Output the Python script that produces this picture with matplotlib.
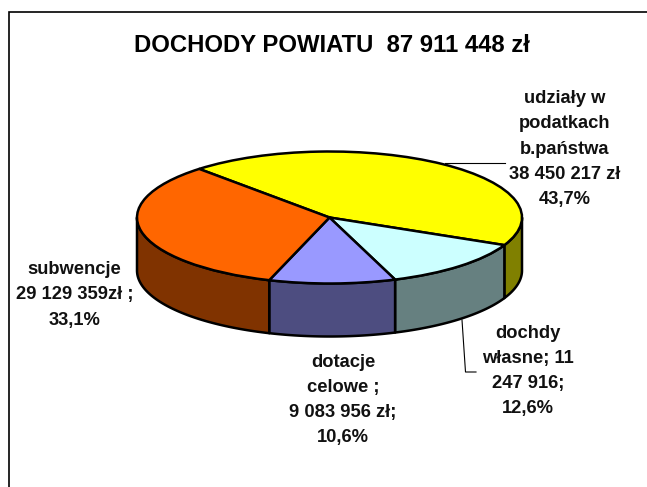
import matplotlib
matplotlib.use("Agg")
import matplotlib.pyplot as plt
import numpy as np

plt.rcParams["font.family"] = ["Liberation Sans", "DejaVu Sans"]

W, H = 647, 487

# dane z wykresu
title = "DOCHODY POWIATU  87 911 448 zł"
percents = [43.7, 12.6, 10.6, 33.1]
top_colors = ["#FFFF00", "#CCFFFF", "#9999FF", "#FF6600"]
side_colors = ["#808000", "#668080", "#4D4D80", "#803300"]
labels = [
    "udziały w\npodatkach\nb.państwa\n38 450 217 zł\n43,7%",
    "dochdy\nwłasne; 11\n247 916;\n12,6%",
    "dotacje\ncelowe ;\n9 083 956 zł;\n10,6%",
    "subwencje\n29 129 359zł ;\n33,1%",
]
label_pos = [(565, 149), (528, 371), (343, 400), (74.5, 295)]
start_angle = 132.6

# geometria kola
cx, cy = 329.5, 217.5
a, b = 192.5, 66
depth = 53

fig = plt.figure(figsize=(W / 100, H / 100), dpi=100)

bg = fig.add_axes([0, 0, 1, 1])
bg.set_xlim(0, W)
bg.set_ylim(H, 0)
bg.axis("off")
bg.plot([8.5, 8.5, W], [H, 12, 12], color="black", lw=1.2, solid_joinstyle="miter")
bg.plot([445, 505], [163, 163], color="black", lw=0.8)
bg.plot([462, 465.5, 476], [320, 372, 372], color="black", lw=0.8)

bg.text(331.5, 45, title, ha="center", va="center", fontsize=17.2, fontweight="bold")
for txt, (x, y) in zip(labels, label_pos):
    bg.text(x, y, txt, ha="center", va="center", fontsize=13.2, fontweight="bold",
            linespacing=1.63, color="#111111")

# os w jednostkach promienia
ax = fig.add_axes([(cx - a) / W, 1 - (cy + b + depth) / H, 2 * a / W, (2 * b + depth) / H])
d = depth / b

# boki
edges = start_angle - np.cumsum([0] + percents) * 3.6
for i, col in enumerate(side_colors):
    t1, t0 = edges[i], edges[i + 1]
    # tylko przednia czesc (ponizej osi)
    vals = np.arange(np.floor(t0 / 360) * 360 - 360, t1 + 360, 360)
    for k in vals:
        lo = max(t0, k + 180)
        hi = min(t1, k + 360)
        if hi <= lo:
            continue
        t = np.radians(np.linspace(lo, hi, 60))
        xs = np.concatenate([np.cos(t), np.cos(t[::-1])])
        ys = np.concatenate([np.sin(t), np.sin(t[::-1]) - d])
        ax.fill(xs, ys, facecolor=col, edgecolor="black", lw=1.8, joinstyle="round")

# wierzch
ax.pie(percents, colors=top_colors, startangle=start_angle, counterclock=False,
       radius=1, wedgeprops={"edgecolor": "black", "linewidth": 1.8})
ax.set_aspect("auto")
ax.set_xlim(-1, 1)
ax.set_ylim(-1 - d, 1)
ax.axis("off")

for s in ax.patches:
    s.set_clip_on(False)

fig.savefig("out.png", dpi=100)
